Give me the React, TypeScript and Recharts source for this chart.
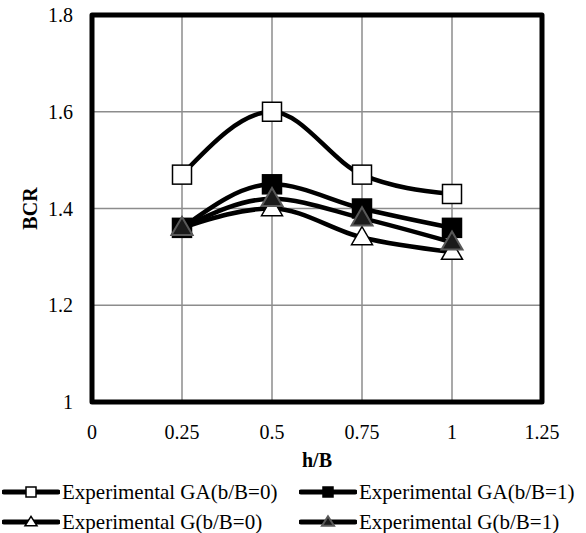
import React from 'react';
import { LineChart, Line, XAxis, YAxis, CartesianGrid, Legend, ReferenceArea } from 'recharts';

const hB = [0.25, 0.5, 0.75, 1];
const gaB0 = [1.47, 1.6, 1.47, 1.43];
const gaB1 = [1.36, 1.45, 1.4, 1.36];
const gB0 = [1.36, 1.4, 1.34, 1.31];
const gB1 = [1.36, 1.42, 1.38, 1.33];
const xTicks = [0, 0.25, 0.5, 0.75, 1, 1.25];
const yTicks = [1, 1.2, 1.4, 1.6, 1.8];

const seriesNames = [
  'Experimental GA(b/B=0)',
  'Experimental GA(b/B=1)',
  'Experimental G(b/B=0)',
  'Experimental G(b/B=1)',
];

const data = hB.map((x, i) => ({ x, ga0: gaB0[i], ga1: gaB1[i], g0: gB0[i], g1: gB1[i] }));

const FONT = '"Liberation Serif", "Times New Roman", serif';

type Kind = 'sqW' | 'sqB' | 'triW' | 'triB';

const markerStyle: Record<Kind, { fill: string; stroke: string }> = {
  sqW: { fill: '#ffffff', stroke: '#000000' },
  sqB: { fill: '#000000', stroke: '#000000' },
  triW: { fill: '#ffffff', stroke: '#000000' },
  triB: { fill: '#1a1a1a', stroke: '#595959' },
};

function markerShape(kind: Kind, cx: number, cy: number, s: number, key?: string) {
  const st = markerStyle[kind];
  if (kind === 'sqW' || kind === 'sqB') {
    return (
      <rect key={key} x={cx - s / 2} y={cy - s / 2} width={s} height={s} fill={st.fill} stroke={st.stroke} strokeWidth={1.5} />
    );
  }
  const h = s * 0.95;
  const pts = `${cx},${cy - h * 0.6} ${cx - s / 2 - 1},${cy + h * 0.4} ${cx + s / 2 + 1},${cy + h * 0.4}`;
  return <polygon key={key} points={pts} fill={st.fill} stroke={st.stroke} strokeWidth={kind === 'triB' ? 2 : 1.5} strokeLinejoin="miter" />;
}

const makeDot = (kind: Kind) => (props: any) => {
  const { cx, cy, index } = props;
  return markerShape(kind, cx, cy, 19, `${kind}-${index}`);
};

const kinds: Kind[] = ['sqW', 'sqB', 'triW', 'triB'];

const LegendContent = () => {
  const item = (i: number, left: number, top: number) => (
    <div key={i} style={{ position: 'absolute', left, top, height: 20, display: 'flex', alignItems: 'center' }}>
      <svg width={58} height={20} style={{ display: 'block' }}>
        <line x1={2} y1={10} x2={56} y2={10} stroke="#000" strokeWidth={5} strokeLinecap="round" />
        {markerShape(kinds[i], 29, 10, 10)}
      </svg>
      <span style={{ fontFamily: FONT, fontSize: 21, color: '#000', whiteSpace: 'nowrap', marginLeft: 2, lineHeight: '20px' }}>{seriesNames[i]}</span>
    </div>
  );
  return (
    <div style={{ position: 'relative', width: 586, height: 61 }}>
      {item(0, 2, 10)}
      {item(1, 299, 10)}
      {item(2, 2, 40)}
      {item(3, 299, 40)}
    </div>
  );
};

const tickStyle = { fontFamily: FONT, fontSize: 20, fill: '#000' };
const labelStyle = { fontFamily: FONT, fontSize: 20, fontWeight: 'bold', fill: '#000' };

export default function App() {
  return (
    <div style={{ position: 'absolute', left: 0, top: 0, width: 586, height: 533, background: '#fff', fontFamily: FONT }}>
      <LineChart width={586} height={533} data={data} margin={{ top: 15, right: 44, left: 0, bottom: 0 }}>
        <CartesianGrid stroke="#8c8c8c" strokeWidth={1.5} verticalValues={[0.25, 0.5, 0.75, 1]} horizontalValues={[1.2, 1.4, 1.6]} />
        <XAxis
          dataKey="x"
          type="number"
          domain={[0, 1.25]}
          ticks={xTicks}
          axisLine={false}
          tickLine={false}
          tickSize={0}
          tickMargin={23}
          height={70}
          tick={tickStyle}
          label={{ value: 'h/B', position: 'insideBottom', offset: 5, style: labelStyle }}
        />
        <YAxis
          type="number"
          domain={[1, 1.8]}
          ticks={yTicks}
          axisLine={false}
          tickLine={false}
          tickSize={0}
          tickMargin={19}
          width={92}
          tick={tickStyle}
          label={{ value: 'BCR', angle: -90, position: 'insideLeft', offset: 30, style: { ...labelStyle, textAnchor: 'middle' } }}
        />
        <ReferenceArea x1={0} x2={1.25} y1={1} y2={1.8} fill="none" fillOpacity={0} stroke="#000" strokeWidth={5} strokeLinejoin="round" ifOverflow="visible" />
        <Line dataKey="ga0" type="monotone" stroke="#000" strokeWidth={4.5} dot={makeDot('sqW')} isAnimationActive={false} name={seriesNames[0]} />
        <Line dataKey="ga1" type="monotone" stroke="#000" strokeWidth={4.5} dot={makeDot('sqB')} isAnimationActive={false} name={seriesNames[1]} />
        <Line dataKey="g0" type="monotone" stroke="#000" strokeWidth={4.5} dot={makeDot('triW')} isAnimationActive={false} name={seriesNames[2]} />
        <Line dataKey="g1" type="monotone" stroke="#000" strokeWidth={4.5} dot={makeDot('triB')} isAnimationActive={false} name={seriesNames[3]} />
        <Legend verticalAlign="bottom" height={61} content={<LegendContent />} />
      </LineChart>
    </div>
  );
}
